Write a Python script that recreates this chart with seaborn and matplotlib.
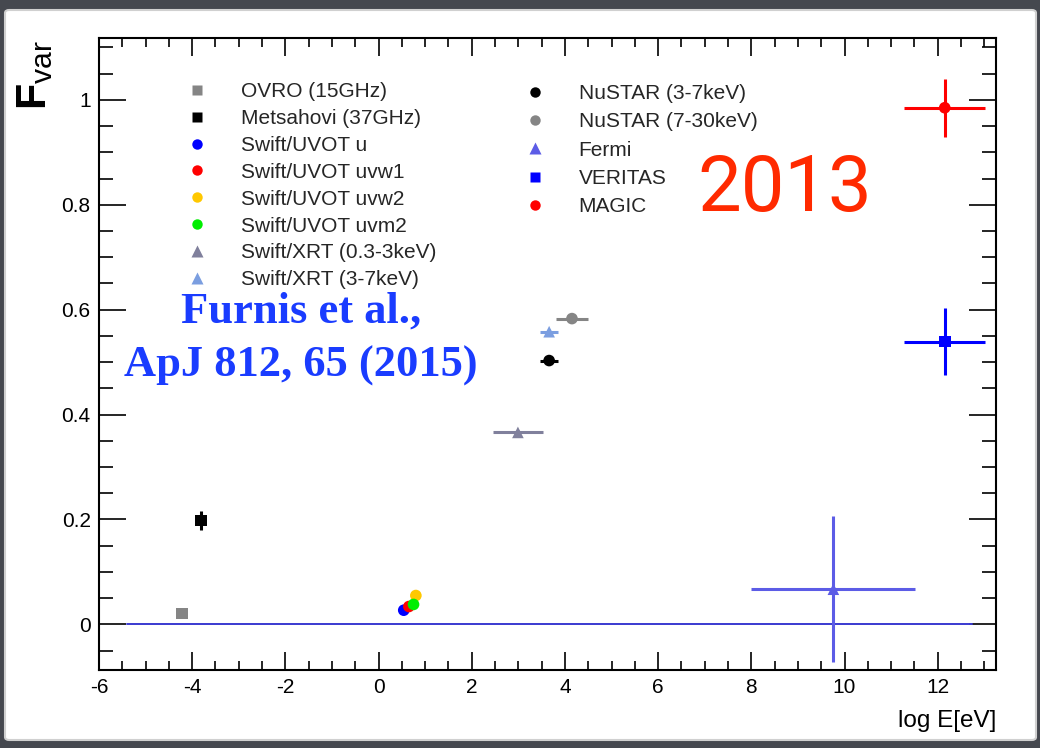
import numpy as np
import pandas as pd
import matplotlib
matplotlib.use('Agg')
import matplotlib.pyplot as plt
from matplotlib.lines import Line2D
from matplotlib.patches import FancyBboxPatch
import seaborn as sns

# Fvar por instrumento
instruments = ['OVRO (15GHz)', 'Metsahovi (37GHz)', 'Swift/UVOT u', 'Swift/UVOT uvw1',
               'Swift/UVOT uvw2', 'Swift/UVOT uvm2', 'Swift/XRT (0.3-3keV)', 'Swift/XRT (3-7keV)',
               'NuSTAR (3-7keV)', 'NuSTAR (7-30keV)', 'Fermi', 'VERITAS', 'MAGIC']
log_e = [-4.22, -3.81, 0.54, 0.65, 0.80, 0.75, 2.99, 3.66, 3.66, 4.15, 9.76, 12.15, 12.15]
fvar = [0.021, 0.198, 0.027, 0.034, 0.055, 0.038, 0.366, 0.558, 0.503, 0.583, 0.067, 0.539, 0.985]
x_err = [0, 0, 0, 0, 0, 0, 0.53, 0.20, 0.20, 0.35, 1.76, 0.87, 0.87]
y_err = [0.002, 0.018, 0.002, 0.002, 0.002, 0.002, 0.004, 0.005, 0.005, 0.004, 0.139, 0.064, 0.055]
colors = ['#858585', '#000000', '#0000ff', '#ff0000', '#ffc800', '#00ee00', '#80809c',
          '#7b9ee0', '#000000', '#858585', '#5c5ce6', '#0000ff', '#ff0000']
markers = ['s', 's', 'o', 'o', 'o', 'o', '^', '^', 'o', 'o', '^', 's', 'o']

df = pd.DataFrame({'inst': instruments, 'logE': log_e, 'Fvar': fvar, 'xerr': x_err, 'yerr': y_err})

sns.set_theme(style='ticks')
plt.rcParams['font.family'] = ['Liberation Sans', 'DejaVu Sans']
plt.rcParams['axes.unicode_minus'] = False
plt.rcParams['mathtext.fontset'] = 'custom'
plt.rcParams['mathtext.rm'] = 'Liberation Sans'
plt.rcParams['mathtext.it'] = 'Liberation Sans'
plt.rcParams['mathtext.bf'] = 'Liberation Sans:bold'
plt.rcParams['mathtext.default'] = 'regular'

fig = plt.figure(figsize=(10.4, 7.48), dpi=100)
fig.patch.set_facecolor('#45484f')
panel = FancyBboxPatch((5 / 1040, 8 / 748), 1031 / 1040, 730 / 748,
                       boxstyle='round,pad=0,rounding_size=0.004', transform=fig.transFigure,
                       facecolor='white', edgecolor='#d0d0d0', linewidth=1.5, zorder=-10)
fig.patches.append(panel)

ax = fig.add_axes([99 / 1040, 78 / 748, 897 / 1040, 632 / 748])
ax.set_facecolor('white')

# linea en cero
ax.plot([-5.4, 12.73], [0, 0], color='#3a3ad0', lw=1.4, zorder=1)

# barras de error
for i, row in df.iterrows():
    ax.errorbar(row['logE'], row['Fvar'], xerr=row['xerr'] if row['xerr'] > 0 else None,
                yerr=row['yerr'], fmt='none', ecolor=colors[i], elinewidth=2.2,
                capsize=0, zorder=2)

pal = dict(zip(instruments, colors))
mk = dict(zip(instruments, markers))
sns.scatterplot(data=df, x='logE', y='Fvar', hue='inst', style='inst', palette=pal,
                markers=mk, s=70, edgecolor='none', legend=False, ax=ax, zorder=3)

ax.set_xlim(-6, 13.25)
ax.set_ylim(-0.087, 1.118)
ax.set_xticks(np.arange(-6, 13, 2))
ax.set_xticks(np.arange(-6, 13.3, 0.5), minor=True)
ax.set_yticks([0, 0.2, 0.4, 0.6, 0.8, 1])
ax.set_yticklabels(['0', '0.2', '0.4', '0.6', '0.8', '1'])
ax.set_yticks(np.arange(-0.05, 1.11, 0.05), minor=True)
ax.tick_params(axis='both', which='both', direction='in', top=True, right=True,
               colors='black', labelsize=15, width=1.2)
ax.tick_params(axis='x', which='major', length=13, pad=6)
ax.tick_params(axis='x', which='minor', length=6.5)
ax.tick_params(axis='y', which='major', length=19.5, pad=6)
ax.tick_params(axis='y', which='minor', length=10)
for s in ax.spines.values():
    s.set_linewidth(1.5)
    s.set_color('black')

ax.set_xlabel('log E[eV]', loc='right', fontsize=17.5, labelpad=9, color='black')
ax.set_ylabel('')
fig.text(35 / 1040, 1 - 40 / 748, r'$\mathbf{F}_{var}$', rotation=90, ha='center', va='top',
         fontsize=31, color='black')

# leyendas
def handles(idx):
    return [Line2D([], [], linestyle='none', marker=markers[i], color=colors[i],
                   markeredgecolor='none', markersize=7.5 if markers[i] != '^' else 8.5,
                   label=instruments[i]) for i in idx]

leg1 = ax.legend(handles=handles(range(8)), loc='upper left',
                 bbox_to_anchor=((187 - 99) / 897, (670 - 82) / 632), frameon=False,
                 fontsize=15, handlelength=1.0, handletextpad=1.57, labelspacing=0.38,
                 borderpad=0, borderaxespad=0)
ax.add_artist(leg1)
ax.legend(handles=handles(range(8, 13)), loc='upper left',
          bbox_to_anchor=((525 - 99) / 897, (670 - 84) / 632), frameon=False,
          fontsize=15, handlelength=1.0, handletextpad=1.57, labelspacing=0.45,
          borderpad=0, borderaxespad=0)

fig.text(785 / 1040, 1 - 190 / 748, '2013', color='#ff2a00', fontsize=56,
         family='Roboto', ha='center', va='center')
fig.text(301 / 1040, 1 - 312 / 748, 'Furnis et al.,', color='#1a3cff', fontsize=32,
         family='Liberation Serif', weight='bold', ha='center', va='center')
fig.text(301 / 1040, 1 - 366 / 748, 'ApJ 812, 65 (2015)', color='#1a3cff', fontsize=32,
         family='Liberation Serif', weight='bold', ha='center', va='center')

fig.savefig('out.png', dpi=100, facecolor=fig.get_facecolor())
